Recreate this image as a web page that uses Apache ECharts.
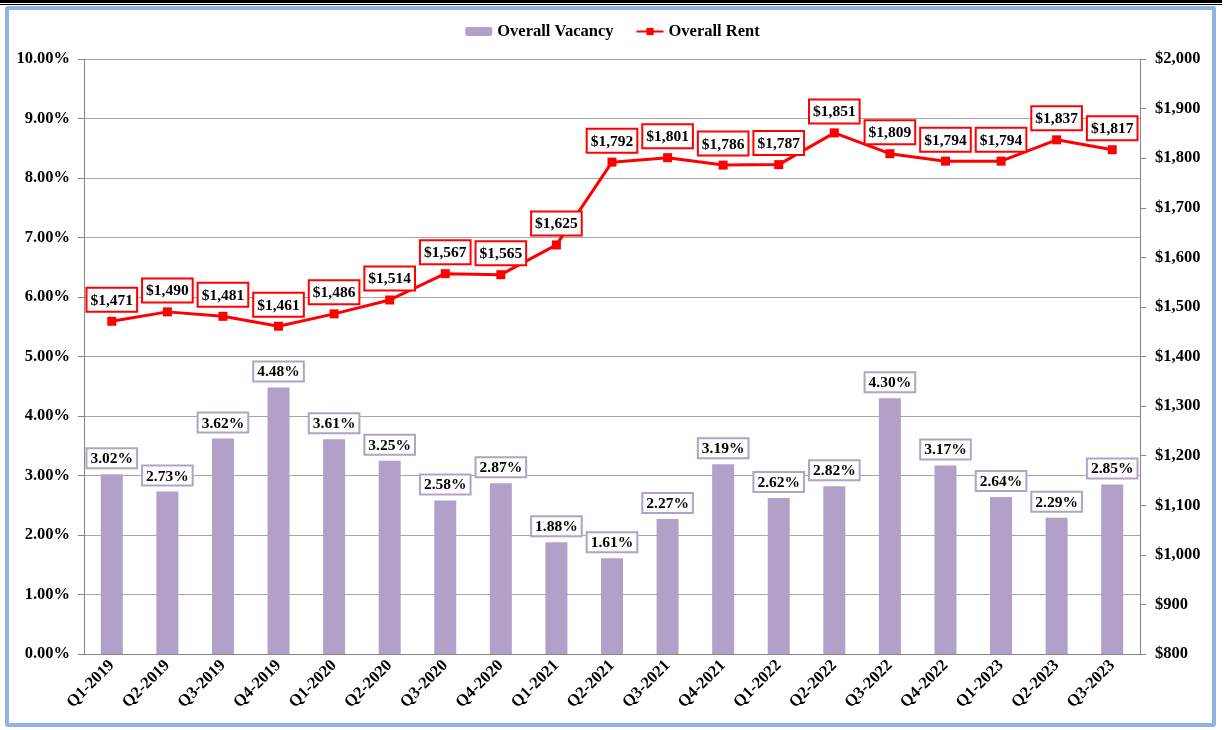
<!DOCTYPE html>
<html>
<head>
<meta charset="utf-8">
<script src="https://cdn.jsdelivr.net/npm/echarts@6/dist/echarts.min.js"></script>
<style>
    html, body { margin: 0; padding: 0; background: #fff; }
    .topline1 { position: absolute; left: 0; top: 0; width: 1222px; height: 3px; background: #000; }
    .topline2 { position: absolute; left: 0; top: 4px; width: 1222px; height: 1px; background: #000; }
    .frame {
        position: absolute; left: 5px; top: 6px; width: 1203px; height: 713px;
        border: 4px solid #8DB4E2; border-radius: 3px; background: #fff;
    }
    #chart { position: absolute; left: 0; top: 0; width: 1225px; height: 730px; }
</style>
</head>
<body>
<div class="topline1"></div>
<div class="topline2"></div>
<div class="frame"></div>
<div id="chart"></div>
<script>
const quarters = ['Q1-2019', 'Q2-2019', 'Q3-2019', 'Q4-2019', 'Q1-2020', 'Q2-2020', 'Q3-2020', 'Q4-2020',
    'Q1-2021', 'Q2-2021', 'Q3-2021', 'Q4-2021', 'Q1-2022', 'Q2-2022', 'Q3-2022', 'Q4-2022',
    'Q1-2023', 'Q2-2023', 'Q3-2023'];
const vacancy = [3.02, 2.73, 3.62, 4.48, 3.61, 3.25, 2.58, 2.87, 1.88, 1.61, 2.27, 3.19, 2.62, 2.82, 4.30, 3.17, 2.64, 2.29, 2.85];
const rent = [1471, 1490, 1481, 1461, 1486, 1514, 1567, 1565, 1625, 1792, 1801, 1786, 1787, 1851, 1809, 1794, 1794, 1837, 1817];

const font = '"Liberation Serif", "Times New Roman", serif';
const money = v => '$' + v.toLocaleString('en-US');

const chart = echarts.init(document.getElementById('chart'));
const option = {
    animation: false,
    textStyle: { fontFamily: font },
    legend: {
        top: 18,
        left: 'center',
        itemGap: 22,
        itemWidth: 27,
        itemHeight: 9,
        textStyle: { fontFamily: font, fontWeight: 'bold', fontSize: 16.5, color: '#000' },
        data: ['Overall Vacancy', 'Overall Rent']
    },
    grid: { left: 84, right: 85, top: 59, bottom: 76 },
    xAxis: {
        type: 'category',
        data: quarters,
        axisLine: { lineStyle: { color: '#868686' } },
        axisTick: { length: 5, lineStyle: { color: '#868686' } },
        axisLabel: {
            rotate: 45, margin: 9, interval: 0,
            fontFamily: font, fontWeight: 'bold', fontSize: 16.5, color: '#000'
        }
    },
    yAxis: [{
        type: 'value',
        min: 0, max: 10, interval: 1,
        axisLine: { show: true, lineStyle: { color: '#868686' } },
        axisTick: { show: true, length: 6, lineStyle: { color: '#868686' } },
        splitLine: { lineStyle: { color: '#A6A6A6' } },
        axisLabel: {
            margin: 14, formatter: v => v.toFixed(2) + '%',
            fontFamily: font, fontWeight: 'bold', fontSize: 16.5, color: '#000'
        }
    }, {
        type: 'value',
        min: 800, max: 2000, interval: 100,
        axisLine: { show: true, lineStyle: { color: '#868686' } },
        axisTick: { show: true, length: 6, lineStyle: { color: '#868686' } },
        splitLine: { show: false },
        axisLabel: {
            margin: 15, formatter: money,
            fontFamily: font, fontWeight: 'bold', fontSize: 16.5, color: '#000'
        }
    }],
    series: [{
        name: 'Overall Vacancy',
        type: 'bar',
        data: vacancy,
        barWidth: 22,
        itemStyle: { color: '#B1A0C7' },
        label: {
            show: true, position: 'top', distance: 7,
            formatter: p => p.value.toFixed(2) + '%',
            fontFamily: font, fontWeight: 'bold', fontSize: 15.5, color: '#000',
            backgroundColor: '#fff', borderColor: '#B3A2C7', borderWidth: 2,
            padding: [2, 3, 0, 3]
        }
    }, {
        name: 'Overall Rent',
        type: 'line',
        yAxisIndex: 1,
        data: rent,
        symbol: 'rect',
        symbolSize: 9,
        lineStyle: { color: '#FF0000', width: 3 },
        itemStyle: { color: '#FF0000' },
        label: {
            show: true, position: 'top', distance: 6,
            formatter: p => money(p.value),
            fontFamily: font, fontWeight: 'bold', fontSize: 15.5, color: '#000',
            backgroundColor: '#fff', borderColor: '#FF0000', borderWidth: 2,
            padding: [4, 3, 2, 3]
        }
    }]
};
chart.setOption(option);
</script>
</body>
</html>
